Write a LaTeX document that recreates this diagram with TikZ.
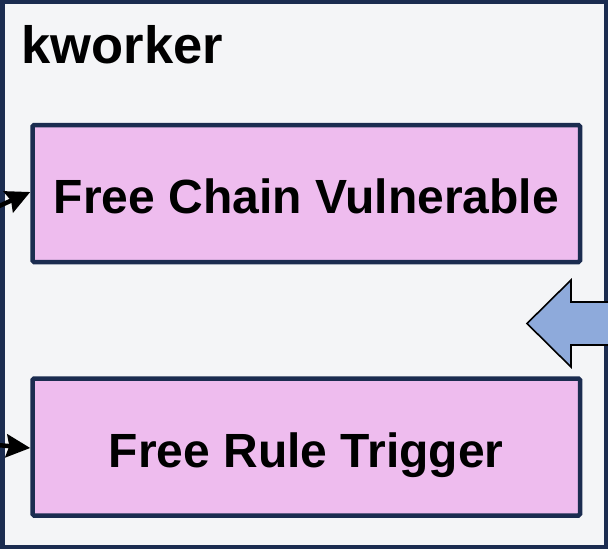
\documentclass[tikz,border=0pt]{standalone}
\usepackage{fontspec}
\setmainfont{Liberation Sans}
\usetikzlibrary{arrows.meta}
\definecolor{navy}{RGB}{27,44,80}
\definecolor{panelbg}{RGB}{244,245,247}
\definecolor{stepfill}{RGB}{238,188,238}
\definecolor{flowblue}{RGB}{142,170,219}
\tikzset{
  stepbox/.style={draw=navy, fill=stepfill, line width=4.5pt, rounded corners=1.5pt,
    minimum width=547.5pt, minimum height=137pt, inner sep=0pt,
    text height=46.4pt, text depth=6pt,
    font=\fontsize{48}{58}\selectfont\bfseries},
  feed/.style={line width=4.5pt, -{Stealth[length=24pt,width=23pt,inset=3pt]}},
}
\begin{document}
\begin{tikzpicture}[x=1pt,y=-1pt]
  \useasboundingbox (0,0) rectangle (608,549);
  \clip (0,0) rectangle (608,549);
  % worker panel
  \draw[draw=navy, fill=panelbg, line width=4.5pt] (2.5,2.2) rectangle (606,547);
  \node[anchor=base west, inner sep=0pt, font=\fontsize{52.5}{62}\selectfont\bfseries]
    (title) at (21.5,63) {kworker};
  % the two work items
  \node[stepbox] (chain) at (306.25,193.5) {Free Chain Vulnerable};
  \node[stepbox] (rule)  at (306.25,447) {Free Rule Trigger};
  % incoming calls
  \coordinate (inA) at (-3,207);
  \coordinate (inB) at (-3,445);
  \draw[feed] (inA) -- ([yshift=1.5pt]chain.west);
  \draw[feed] (inB) -- ([yshift=-1pt]rule.west);
  % external trigger arrow entering from the right
  \draw[fill=flowblue, draw=black, line width=1.6pt, line join=miter]
    (527,323.5) -- (571,280) -- (571,302) -- (615,302) -- (615,345)
    -- (571,345) -- (571,367) -- cycle;
\end{tikzpicture}
\end{document}
